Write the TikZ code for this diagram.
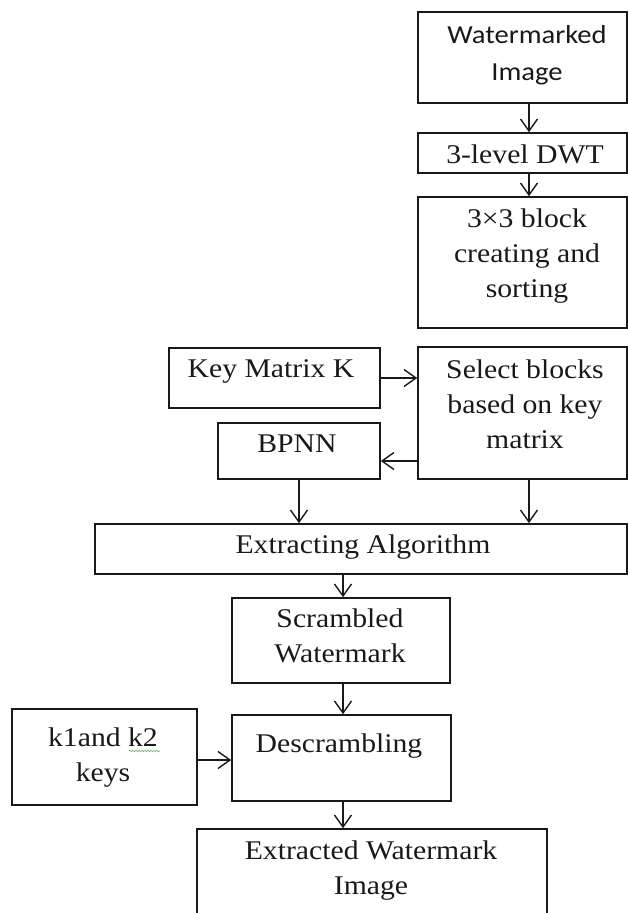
\documentclass[tikz,border=0pt]{standalone}
\usepackage{fontspec}
\setmainfont[FakeStretch=1.1]{Liberation Serif}
\newfontfamily\calib[FakeStretch=1.1]{Carlito}
\usetikzlibrary{arrows.meta,decorations.pathmorphing}
\newcommand\mlines[1]{\begin{tabular}[t]{@{}c@{}}#1\end{tabular}}
\begin{document}
\begin{tikzpicture}[x=1pt,y=-1pt,
  box/.style={draw=black!90, line width=1.6pt, inner sep=0pt},
  txt/.style={anchor=base, inner sep=0pt, text=black!90, font=\fontsize{27}{35}\selectfont},
  arr/.style={draw=black!90, line width=1.4pt, -{Straight Barb[length=12pt,width=17pt]}}]
\useasboundingbox (0,0) rectangle (628,913);
\clip (0,0) rectangle (628,913);
\fill[white] (0,0) rectangle (628,913);

% boxes
\node[box, minimum width=209pt, minimum height=91pt]  (wm)  at (522.5,57.5) {};
\node[box, minimum width=209pt, minimum height=40pt]  (dwt) at (522.5,153) {};
\node[box, minimum width=209pt, minimum height=131pt] (blk) at (522.5,262.5) {};
\node[box, minimum width=211pt, minimum height=60pt]  (key) at (274.5,378) {};
\node[box, minimum width=209pt, minimum height=132pt] (sel) at (522.5,413) {};
\node[box, minimum width=162pt, minimum height=56pt]  (bp)  at (299,451) {};
\node[box, minimum width=532pt, minimum height=50pt]  (ext) at (361,549) {};
\node[box, minimum width=218pt, minimum height=85pt]  (scr) at (341,640.5) {};
\node[box, minimum width=219pt, minimum height=86pt]  (des) at (341.5,758) {};
\node[box, minimum width=185pt, minimum height=96pt]  (k12) at (104.5,757) {};
\node[box, minimum width=350pt, minimum height=111pt] (out) at (372,884.5) {};

% texts
\node[txt, font=\calib\fontsize{26}{37}\selectfont] (twm) at (527,43) {\mlines{Watermarked\\Image}};
\node[txt] (tdwt) at (525,163) {3-level DWT};
\node[txt] (tblk) at (527,227) {\mlines{3×3 block\\creating and\\sorting}};
\node[txt] (tkey) at (271,377) {Key Matrix K};
\node[txt] (tsel) at (525,378) {\mlines{Select blocks\\based on key\\matrix}};
\node[txt] (tbp)  at (297,452) {BPNN};
\node[txt] (text) at (363,553) {Extracting Algorithm};
\node[txt] (tscr) at (340,627) {\mlines{Scrambled\\Watermark}};
\node[txt] (tdes) at (339,752) {Descrambling};
\node[txt] (tk12) at (103,746) {\mlines{k1and k2\\keys}};
\node[txt] (tout) at (371,859) {\mlines{Extracted Watermark\\Image}};

% spell-check squiggle under k2
\draw[decorate, decoration={snake, amplitude=0.8pt, segment length=3pt}, draw=green!45!black!55, line width=0.6pt] (129,751) -- (160,751);

% connectors
\coordinate (xr) at (529,0);
\coordinate (xm) at (343,0);
\coordinate (ya) at (0,378);
\coordinate (yb) at (0,461);
\coordinate (yc) at (0,760);
\draw[arr] (wm.south -| xr) -- (dwt.north -| xr);
\draw[arr] (dwt.south -| xr) -- (blk.north -| xr);
\draw[arr] (key.east |- ya) -- (sel.west |- ya);
\draw[arr] (sel.west |- yb) -- (bp.east |- yb);
\draw[arr] (bp.south) -- (bp.south |- ext.north);
\draw[arr] (sel.south -| xr) -- (ext.north -| xr);
\draw[arr] (ext.south -| xm) -- (scr.north -| xm);
\draw[arr] (scr.south -| xm) -- (des.north -| xm);
\draw[arr] (k12.east |- yc) -- (des.west |- yc);
\draw[arr] (des.south -| xm) -- (out.north -| xm);
\end{tikzpicture}
\end{document}
